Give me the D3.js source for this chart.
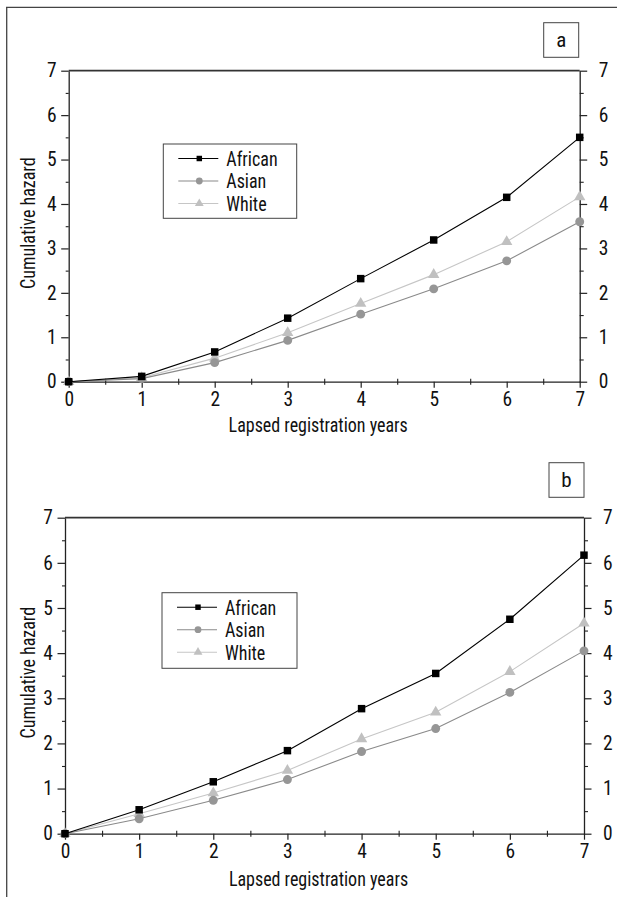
<!DOCTYPE html>
<html>
<head>
<meta charset="utf-8">
<script src="https://cdn.jsdelivr.net/npm/d3@7"></script>
<style>
  html, body { margin: 0; padding: 0; background: #fff; }
  svg text {
    font-family: 'Roboto Condensed', 'Liberation Sans Narrow', 'Arial Narrow', 'DejaVu Sans Condensed', 'Liberation Sans', sans-serif;
    fill: #111;
  }
</style>
</head>
<body>
<svg id="chart" width="617" height="897"></svg>
<script>
// ---- data ----
const years = [0, 1, 2, 3, 4, 5, 6, 7];
const groups = ["African", "Asian", "White"];

const hazardA_African = [0, 0.12, 0.67, 1.43, 2.32, 3.19, 4.15, 5.50];
const hazardA_Asian   = [0, 0.07, 0.43, 0.93, 1.52, 2.09, 2.72, 3.60];
const hazardA_White   = [0, 0.09, 0.53, 1.10, 1.76, 2.41, 3.15, 4.16];

const hazardB_African = [0, 0.53, 1.15, 1.84, 2.77, 3.55, 4.75, 6.17];
const hazardB_Asian   = [0, 0.33, 0.74, 1.20, 1.82, 2.33, 3.13, 4.05];
const hazardB_White   = [0, 0.44, 0.90, 1.40, 2.10, 2.69, 3.59, 4.66];

const xTicks = [0, 1, 2, 3, 4, 5, 6, 7];
const yTicks = [0, 1, 2, 3, 4, 5, 6, 7];
const xTitle = "Lapsed registration years";
const yTitle = "Cumulative hazard";

// ---- styling per group ----
const styles = {
  African: { line: "#000000", fill: "#000000", shape: d3.symbolSquare,   size: 56, legendSize: 30 },
  Asian:   { line: "#8a8a8a", fill: "#969696", shape: d3.symbolCircle,   size: 62, legendSize: 36 },
  White:   { line: "#c6c6c6", fill: "#c0c0c0", shape: d3.symbolTriangle, size: 56, legendSize: 34 }
};

const panels = [
  {
    letter: "a",
    series: { African: hazardA_African, Asian: hazardA_Asian, White: hazardA_White },
    left: 68.7, right: 579.7, top: 70.7, bottom: 381.7,
    tag: { x: 543.7, y: 22.7, w: 35, h: 34.6 },
    legend: { x: 163.3, y: 144, w: 133.4, h: 74.3 },
    titleBase: 432
  },
  {
    letter: "b",
    series: { African: hazardB_African, Asian: hazardB_Asian, White: hazardB_White },
    left: 65, right: 584, top: 517.7, bottom: 833.7,
    tag: { x: 549, y: 462.7, w: 35, h: 34.6 },
    legend: { x: 162, y: 592.7, w: 135, h: 75.6 },
    titleBase: 886
  }
];

// horizontally condense text in place (keeps its anchor point)
function squeeze(sel, k) {
  sel.each(function () {
    const t = d3.select(this);
    const x0 = +t.attr("x") || 0;
    const prev = t.attr("transform") || "";
    t.attr("x", x0 / k).attr("transform", `${prev} scale(${k},1)`.trim());
  });
}

const svg = d3.select("#chart");

// outer frame (top and left rules)
svg.append("line").attr("x1", 6).attr("x2", 617).attr("y1", 7.3).attr("y2", 7.3)
  .attr("stroke", "#444").attr("stroke-width", 1.3);
svg.append("line").attr("x1", 6.7).attr("x2", 6.7).attr("y1", 7).attr("y2", 897)
  .attr("stroke", "#444").attr("stroke-width", 1.3);

const halves = d3.range(0.5, 7, 1);

panels.forEach(p => {
  const x = d3.scaleLinear().domain([0, 7]).range([p.left, p.right]);
  const y = d3.scaleLinear().domain([0, 7]).range([p.bottom, p.top]);
  const g = svg.append("g");

  // minor ticks
  g.append("g").attr("transform", `translate(0,${p.bottom})`)
    .call(d3.axisBottom(x).tickValues(halves).tickSize(3).tickFormat(""))
    .call(a => a.select(".domain").remove())
    .call(a => a.selectAll("line").attr("y1", -3).attr("stroke", "#222").attr("stroke-width", 1.1));
  g.append("g").attr("transform", `translate(${p.left},0)`)
    .call(d3.axisLeft(y).tickValues(halves).tickSize(3).tickFormat(""))
    .call(a => a.select(".domain").remove())
    .call(a => a.selectAll("line").attr("stroke", "#222").attr("stroke-width", 1.1));
  g.append("g").attr("transform", `translate(${p.right},0)`)
    .call(d3.axisRight(y).tickValues(halves).tickSize(4).tickFormat(""))
    .call(a => a.select(".domain").remove())
    .call(a => a.selectAll("line").attr("stroke", "#222").attr("stroke-width", 1.1));

  // major axes
  const xAxis = g.append("g").attr("transform", `translate(0,${p.bottom})`)
    .call(d3.axisBottom(x).tickValues(xTicks).tickSize(6).tickSizeOuter(0).tickFormat(d3.format("d")));
  xAxis.selectAll("text").attr("y", 10.5).attr("font-size", 19.5);

  const yLeft = g.append("g").attr("transform", `translate(${p.left},0)`)
    .call(d3.axisLeft(y).tickValues(yTicks).tickSize(7.5).tickSizeOuter(0).tickFormat(d3.format("d")));
  yLeft.selectAll("text").attr("x", -12).attr("font-size", 19.5);

  const yRight = g.append("g").attr("transform", `translate(${p.right},0)`)
    .call(d3.axisRight(y).tickValues(yTicks).tickSize(7.5).tickSizeOuter(0).tickFormat(d3.format("d")));
  yRight.selectAll("text").attr("x", 19).attr("font-size", 19.5);

  [xAxis, yLeft, yRight].forEach(a => {
    a.select(".domain").attr("stroke", "#222").attr("stroke-width", 1.3);
    a.selectAll(".tick line").attr("stroke", "#222").attr("stroke-width", 1.2);
    a.selectAll("text").attr("fill", "#111").style("font-family", null);
  });

  // top edge of the plotting box
  g.append("line").attr("x1", x(0)).attr("x2", x(7)).attr("y1", y(7)).attr("y2", y(7))
    .attr("stroke", "#333").attr("stroke-width", 1.8);

  // series lines and markers (lightest first so African sits on top)
  const line = d3.line().x((d, i) => x(years[i])).y(d => y(d));
  ["White", "Asian", "African"].forEach(name => {
    const s = styles[name];
    const vals = p.series[name];
    g.append("path").datum(vals).attr("d", line)
      .attr("fill", "none").attr("stroke", s.line).attr("stroke-width", 1.1);
    g.selectAll(null).data(vals).enter().append("path")
      .attr("d", d3.symbol().type(s.shape).size(s.size))
      .attr("transform", (d, i) => `translate(${x(years[i])},${y(d)})`)
      .attr("fill", s.fill);
  });

  // axis titles
  const xt = g.append("text").attr("x", (p.left + p.right) / 2 - 6).attr("y", p.titleBase)
    .attr("text-anchor", "middle").attr("font-size", 20).text(xTitle);
  squeeze(xt, 0.9);
  const yt = g.append("text")
    .attr("transform", `translate(35,${(p.top + p.bottom) / 2 - 3}) rotate(-90)`)
    .attr("text-anchor", "middle").attr("font-size", 20).text(yTitle);
  squeeze(yt, 0.9);

  // panel tag
  g.append("rect").attr("x", p.tag.x).attr("y", p.tag.y).attr("width", p.tag.w).attr("height", p.tag.h)
    .attr("fill", "#fff").attr("stroke", "#444").attr("stroke-width", 1);
  g.append("text").attr("x", p.tag.x + p.tag.w / 2).attr("y", p.tag.y + p.tag.h / 2 + 6.5)
    .attr("text-anchor", "middle").attr("font-size", 21).text(p.letter);

  // legend
  const L = p.legend;
  const lg = g.append("g");
  lg.append("rect").attr("x", L.x).attr("y", L.y).attr("width", L.w).attr("height", L.h)
    .attr("fill", "#fff").attr("stroke", "#444").attr("stroke-width", 1);
  const rowY = d3.scalePoint().domain(groups).range([L.y + 14.5, L.y + 59.5]);
  groups.forEach(name => {
    const s = styles[name];
    const cy = rowY(name);
    lg.append("line").attr("x1", L.x + 15).attr("x2", L.x + 55).attr("y1", cy).attr("y2", cy)
      .attr("stroke", s.line).attr("stroke-width", 1.1);
    lg.append("path").attr("d", d3.symbol().type(s.shape).size(s.legendSize)())
      .attr("transform", `translate(${L.x + 36},${cy})`).attr("fill", s.fill);
    const lt = lg.append("text").attr("x", L.x + 63).attr("y", cy + 7.5).attr("font-size", 20).text(name);
    squeeze(lt, 0.9);
  });
});
</script>
</body>
</html>
